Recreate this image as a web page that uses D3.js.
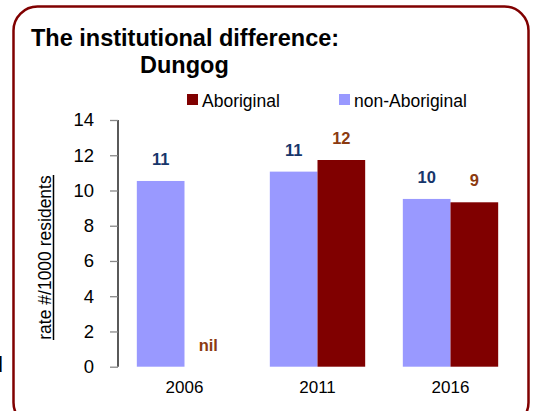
<!DOCTYPE html>
<html>
<head>
<meta charset="utf-8">
<script src="https://cdn.jsdelivr.net/npm/d3@7"></script>
<style>
  body { margin: 0; background: #fff; }
  text { font-family: "Liberation Sans", Arial, sans-serif; }
</style>
</head>
<body>
<div id="chart"></div>
<script>
const years = ["2006", "2011", "2016"];
const seriesNames = ["non-Aboriginal", "Aboriginal"];
const nonAboriginal = [10.54, 11.07, 9.52];
const aboriginal = [0, 11.73, 9.33];
const nonAbLabels = ["11", "11", "10"];
const abLabels = ["nil", "12", "9"];
const yTicks = [0, 2, 4, 6, 8, 10, 12, 14];

const W = 535, H = 411;
const plot = {left: 118, right: 517, top: 120, bottom: 366.7};

const svg = d3.select("#chart").append("svg")
  .attr("width", W)
  .attr("height", H);

// frame
svg.append("rect")
  .attr("x", 13.5).attr("y", 6.5)
  .attr("width", 515).attr("height", 420)
  .attr("rx", 24).attr("ry", 24)
  .attr("fill", "none")
  .attr("stroke", "#800000")
  .attr("stroke-width", 2.5);

// clipped stray letter at the left edge
svg.append("text")
  .attr("x", 3).attr("y", 372)
  .attr("text-anchor", "end")
  .style("font-size", "22px")
  .text("d");

// title
svg.append("text")
  .attr("x", 31).attr("y", 46)
  .style("font-size", "23.5px").style("font-weight", "bold")
  .text("The institutional difference:");
svg.append("text")
  .attr("x", 140).attr("y", 73)
  .style("font-size", "23.5px").style("font-weight", "bold")
  .text("Dungog");

const x0 = d3.scaleBand()
  .domain(years)
  .range([plot.left, plot.right])
  .paddingInner(0.283)
  .paddingOuter(0.1415);

const x1 = d3.scaleBand()
  .domain(seriesNames)
  .range([0, x0.bandwidth()]);

const y = d3.scaleLinear()
  .domain([0, 14])
  .range([plot.bottom, plot.top]);

const color = d3.scaleOrdinal()
  .domain(seriesNames)
  .range(["#9999ff", "#800000"]);
const labelColor = {"non-Aboriginal": "#17366b", "Aboriginal": "#8b3a0f"};

// y axis
const yAxis = svg.append("g")
  .attr("transform", `translate(${plot.left},0)`)
  .call(d3.axisLeft(y).tickValues(yTicks).tickSize(8).tickPadding(16));
yAxis.select(".domain").attr("stroke", "#000").attr("stroke-width", 1.3)
  .attr("d", `M0,${plot.top}V${plot.bottom}`);
yAxis.selectAll(".tick line").attr("stroke", "#888").attr("stroke-width", 1.3);
yAxis.selectAll(".tick text")
  .style("font-size", "18.5px")
  .style("font-family", "Liberation Sans, Arial, sans-serif")
  .attr("fill", "#000");

// x axis labels
const xAxis = svg.append("g")
  .attr("transform", `translate(0,${plot.bottom})`)
  .call(d3.axisBottom(x0).tickSize(0).tickPadding(14));
xAxis.select(".domain").remove();
xAxis.selectAll(".tick text")
  .style("font-size", "17px")
  .style("font-family", "Liberation Sans, Arial, sans-serif")
  .attr("fill", "#000");

// y label
svg.append("text")
  .attr("transform", `translate(51,257.5) rotate(-90)`)
  .attr("text-anchor", "middle")
  .style("font-size", "17.5px")
  .text("rate #/1000 residents");
svg.append("line")
  .attr("x1", 53.5).attr("x2", 53.5)
  .attr("y1", 175).attr("y2", 340)
  .attr("stroke", "#000").attr("stroke-width", 1.5);

// bars
const rows = years.map((yr, i) => ({
  year: yr,
  values: [
    {key: "non-Aboriginal", value: nonAboriginal[i], label: nonAbLabels[i]},
    {key: "Aboriginal", value: aboriginal[i], label: abLabels[i]}
  ]
}));

const groups = svg.selectAll(".grp")
  .data(rows)
  .enter().append("g")
  .attr("transform", d => `translate(${x0(d.year)},0)`);

groups.selectAll("rect")
  .data(d => d.values)
  .enter().append("rect")
  .attr("x", d => x1(d.key))
  .attr("y", d => y(d.value))
  .attr("width", x1.bandwidth())
  .attr("height", d => y(0) - y(d.value))
  .attr("fill", d => color(d.key));

groups.selectAll(".lbl")
  .data(d => d.values)
  .enter().append("text")
  .attr("x", d => x1(d.key) + x1.bandwidth() / 2)
  .attr("y", d => y(d.value) - 16)
  .attr("text-anchor", "middle")
  .style("font-size", "16.5px")
  .style("font-weight", "bold")
  .attr("fill", d => labelColor[d.key])
  .text(d => d.label);

// legend
const legendItems = [
  {key: "Aboriginal", x: 187},
  {key: "non-Aboriginal", x: 339}
];
const lg = svg.selectAll(".leg")
  .data(legendItems)
  .enter().append("g")
  .attr("transform", d => `translate(${d.x},94)`);
lg.append("rect")
  .attr("width", 11).attr("height", 11)
  .attr("fill", d => color(d.key));
lg.append("text")
  .attr("x", 15).attr("y", 13)
  .style("font-size", "17.5px")
  .text(d => d.key);
</script>
</body>
</html>
